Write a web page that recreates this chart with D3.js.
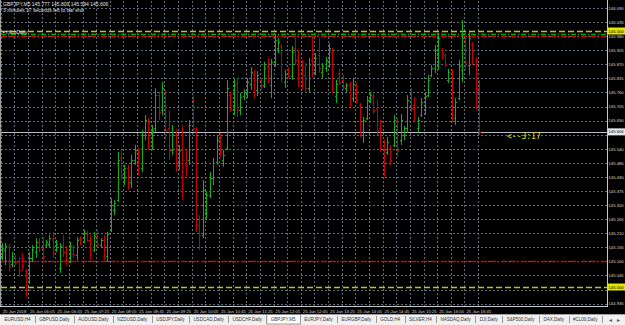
<!DOCTYPE html>
<html><head><meta charset="utf-8">
<script src="https://cdn.jsdelivr.net/npm/d3@7"></script>
<style>html,body{margin:0;padding:0;background:#000;overflow:hidden}svg{display:block}</style>
</head><body>
<svg id="c" width="625" height="325"></svg>
<script>
const symbol = "GBPJPY,M5";
const opens = [145.121,145.145,145.156,145.090,145.117,145.102,145.113,145.063,145.020,145.113,145.137,145.176,145.152,145.164,145.168,145.191,145.145,145.074,145.164,145.137,145.113,145.156,145.125,145.188,145.176,145.207,145.184,145.145,145.199,145.164,145.184,145.121,145.223,145.301,145.340,145.504,145.426,145.465,145.410,145.496,145.527,145.465,145.594,145.645,145.566,145.621,145.750,145.691,145.762,145.621,145.535,145.594,145.477,145.535,145.477,145.496,145.730,145.613,145.242,145.203,145.293,145.359,145.426,145.488,145.574,145.496,145.543,145.750,145.691,145.797,145.691,145.746,145.754,145.793,145.832,145.770,145.809,145.789,145.863,145.789,145.879,145.934,145.941,145.801,145.848,145.824,145.934,145.895,145.840,145.828,145.777,145.887,145.840,145.906,145.840,145.855,145.879,145.918,145.746,145.832,145.809,145.777,145.789,145.738,145.785,145.711,145.594,145.660,145.730,145.746,145.699,145.621,145.555,145.527,145.543,145.555,145.645,145.574,145.594,145.621,145.750,145.711,145.621,145.672,145.711,145.750,145.828,145.855,145.906,145.926,145.906,145.809,145.840,145.660,145.738,145.848,145.965,145.867,145.949,145.887,145.777];
const highs = [145.172,145.172,145.168,145.137,145.125,145.117,145.133,145.070,145.137,145.164,145.191,145.191,145.195,145.184,145.203,145.215,145.184,145.172,145.203,145.160,145.176,145.164,145.195,145.199,145.223,145.219,145.203,145.215,145.223,145.191,145.203,145.215,145.348,145.340,145.527,145.535,145.477,145.477,145.516,145.555,145.543,145.613,145.672,145.660,145.633,145.777,145.762,145.801,145.770,145.691,145.633,145.613,145.555,145.633,145.535,145.652,145.750,145.625,145.281,145.418,145.371,145.449,145.504,145.594,145.602,145.535,145.809,145.762,145.816,145.816,145.758,145.773,145.816,145.859,145.848,145.844,145.816,145.879,145.895,145.891,145.988,145.973,145.949,145.848,145.859,145.941,145.973,145.926,145.887,145.875,145.895,145.980,145.914,145.973,145.875,145.898,145.953,145.934,145.809,145.852,145.828,145.797,145.801,145.813,145.797,145.719,145.664,145.746,145.762,145.762,145.730,145.652,145.574,145.586,145.555,145.672,145.660,145.676,145.629,145.750,145.777,145.742,145.664,145.738,145.758,145.828,145.867,145.945,145.992,145.934,145.914,145.852,145.848,145.738,145.887,146.043,145.996,145.996,145.957,145.898,145.809];
const lows = [145.105,145.086,145.059,145.078,145.086,145.039,145.066,144.961,145.012,145.098,145.113,145.137,145.105,145.156,145.156,145.113,145.137,145.055,145.117,145.086,145.094,145.113,145.105,145.164,145.172,145.176,145.105,145.137,145.156,145.156,145.105,145.098,145.215,145.281,145.332,145.418,145.398,145.379,145.387,145.477,145.438,145.449,145.574,145.535,145.535,145.605,145.652,145.672,145.574,145.496,145.516,145.449,145.457,145.340,145.426,145.477,145.605,145.215,145.145,145.191,145.262,145.348,145.398,145.477,145.508,145.469,145.535,145.684,145.672,145.664,145.672,145.730,145.738,145.770,145.738,145.746,145.770,145.777,145.797,145.738,145.859,145.914,145.801,145.777,145.816,145.809,145.867,145.781,145.770,145.758,145.758,145.820,145.828,145.836,145.816,145.840,145.855,145.758,145.719,145.789,145.770,145.762,145.703,145.723,145.719,145.586,145.563,145.652,145.719,145.676,145.594,145.527,145.430,145.516,145.477,145.547,145.508,145.555,145.574,145.602,145.684,145.645,145.602,145.664,145.672,145.742,145.820,145.836,145.848,145.887,145.859,145.797,145.645,145.633,145.730,145.801,145.848,145.828,145.867,145.691,145.594];
const closes = [145.152,145.160,145.082,145.121,145.098,145.066,145.082,144.988,145.113,145.145,145.176,145.148,145.121,145.176,145.191,145.137,145.168,145.160,145.137,145.105,145.160,145.129,145.184,145.172,145.211,145.184,145.125,145.199,145.168,145.184,145.125,145.207,145.320,145.328,145.496,145.438,145.465,145.406,145.496,145.535,145.465,145.594,145.652,145.566,145.613,145.750,145.684,145.777,145.613,145.535,145.605,145.477,145.535,145.398,145.449,145.633,145.621,145.242,145.203,145.379,145.359,145.426,145.484,145.574,145.527,145.516,145.777,145.699,145.789,145.691,145.742,145.762,145.801,145.840,145.762,145.828,145.785,145.855,145.816,145.879,145.965,145.957,145.828,145.832,145.824,145.918,145.887,145.816,145.789,145.777,145.871,145.840,145.895,145.855,145.863,145.887,145.934,145.785,145.793,145.801,145.785,145.789,145.730,145.793,145.730,145.613,145.652,145.730,145.750,145.691,145.613,145.543,145.457,145.566,145.496,145.652,145.535,145.652,145.621,145.730,145.699,145.660,145.652,145.723,145.746,145.809,145.855,145.926,145.973,145.898,145.871,145.840,145.672,145.723,145.863,145.973,145.879,145.973,145.895,145.770,145.606];
const timeLabels = ["25 Jan 2018","25 Jan 06:05","25 Jan 06:45","25 Jan 07:25","25 Jan 08:05","25 Jan 08:45","25 Jan 09:25","25 Jan 10:05","25 Jan 10:45","25 Jan 11:25","25 Jan 12:05","25 Jan 12:45","25 Jan 13:25","25 Jan 14:05","25 Jan 14:45","25 Jan 15:25","25 Jan 16:05","25 Jan 16:45"];
const priceTicks = [146.090,146.035,145.980,145.925,145.870,145.815,145.760,145.705,145.650,145.595,145.540,145.485,145.430,145.375,145.320,145.265,145.210,145.155,145.100,145.045,144.990,144.935];
const roundLevels = [146.000,145.000];
const dayLevelsGreen = [145.987];
const dayLevelsRed = [145.980,145.100];
const bidPrice = 145.606;
const timerText = "<--3:17";
const timeLeft = "3 minutes 17 seconds left to bar end";
const indicatorName = "\u25AA HiLoDaily";
const tabs = ["EURUSD,H4","GBPUSD,Daily","AUDUSD,Daily","NZDUSD,Daily","USDJPY,Daily","USDCAD,Daily","USDCHF,Daily","GBPJPY,M5","EURJPY,Daily","EURGBP,Daily","GOLD,H4","SILVER,H4","NASDAQ,Daily","DJI,Daily","S&P500,Daily","DAX,Daily","#CL00,Daily"];
const activeTab = "GBPJPY,M5";

const svg = d3.select("#c");
const plotR = 607, plotB = 306;
const y = d3.scaleLinear().domain([145, 146]).range([287, 31]);
const n = closes.length;
const x = d3.scaleLinear().domain([0, n - 1]).range([1.7, 1.7 + (n - 1) * 3.41]);
const font = "Arial, 'Liberation Sans', sans-serif";
const fmt = d3.format(".3f");

svg.append("rect").attr("width", 625).attr("height", 325).attr("fill", "#000");

// grid
const gridColor = "#5f6c7a";
const g = svg.append("g");
priceTicks.forEach(p => {
  const yy = Math.round(y(p)) + 0.5;
  g.append("line").attr("x1", 1).attr("x2", plotR).attr("y1", yy).attr("y2", yy)
    .attr("stroke", gridColor).attr("stroke-dasharray", "2,2").attr("stroke-width", 1);
});
d3.range(0, n, 4).forEach(i => {
  const xx = Math.round(x(i)) - 0.5;
  g.append("line").attr("x1", xx).attr("x2", xx).attr("y1", 1).attr("y2", plotB)
    .attr("stroke", gridColor).attr("stroke-dasharray", "2,2").attr("stroke-width", 1);
});

// level lines
const lv = svg.append("g");
const hline = (p, col, dash, w) => lv.append("line").attr("x1", 1).attr("x2", plotR)
  .attr("y1", Math.round(y(p)) + 0.5).attr("y2", Math.round(y(p)) + 0.5)
  .attr("stroke", col).attr("stroke-width", w).attr("stroke-dasharray", dash);
roundLevels.forEach(p => hline(p, "#c8c800", "6,3", 1.3));
dayLevelsGreen.forEach(p => hline(p, "#00b000", "5,2,1,2", 1.3));
dayLevelsRed.forEach(p => hline(p, "#d80000", "5,2,1,2", 1.3));
hline(bidPrice, "#b8bcc4", null, 1);

// OHLC bars
const bars = svg.append("g");
for (let i = 0; i < n; i++) {
  const col = closes[i] >= opens[i] ? "#12b012" : "#c40000";
  const xx = Math.round(x(i)) + 0.5;
  bars.append("line").attr("x1", xx).attr("x2", xx).attr("y1", y(highs[i])).attr("y2", y(lows[i]))
    .attr("stroke", col).attr("stroke-width", 1);
  bars.append("line").attr("x1", xx - 1.5).attr("x2", xx).attr("y1", Math.round(y(opens[i])) + 0.5).attr("y2", Math.round(y(opens[i])) + 0.5)
    .attr("stroke", col).attr("stroke-width", 1);
  bars.append("line").attr("x1", xx).attr("x2", xx + 1.5).attr("y1", Math.round(y(closes[i])) + 0.5).attr("y2", Math.round(y(closes[i])) + 0.5)
    .attr("stroke", col).attr("stroke-width", 1);
}

// borders
svg.append("line").attr("x1", 0.5).attr("x2", 0.5).attr("y1", 0).attr("y2", plotB).attr("stroke", "#a0a0a0");
svg.append("line").attr("x1", plotR + 0.5).attr("x2", plotR + 0.5).attr("y1", 0).attr("y2", plotB + 0.5).attr("stroke", "#c8c8c8");
svg.append("line").attr("x1", 0).attr("x2", plotR + 1).attr("y1", plotB + 0.5).attr("y2", plotB + 0.5).attr("stroke", "#c8c8c8");

// price axis (labels hidden under highlighted boxes are skipped)
const hlPrices = roundLevels.concat([bidPrice]);
const visTicks = priceTicks.filter(p => hlPrices.every(h => Math.abs(y(p) - y(h)) > 4));
const ax = svg.append("g").attr("transform", `translate(${plotR + 1.5},0)`)
  .call(d3.axisRight(y).tickValues(visTicks).tickSize(0).tickPadding(0).tickFormat(fmt));
ax.select(".domain").remove();
ax.selectAll("text").attr("fill", "#d8d8d8").attr("font-size", 4.2).attr("font-family", font);

function hlLabel(p, bg) {
  const yy = y(p);
  svg.append("rect").attr("x", plotR + 1).attr("y", yy - 3.5).attr("width", 17).attr("height", 7).attr("fill", bg);
  svg.append("text").attr("x", plotR + 1.5).attr("y", yy + 1.5).attr("font-size", 4.2).attr("font-family", font)
    .attr("fill", "#000").text(fmt(p));
}
roundLevels.forEach(p => hlLabel(p, "#e6e600"));
hlLabel(bidPrice, "#e8e8e8");

// time axis
const tIdx = timeLabels.map((d, k) => k * 8);
const tx = svg.append("g").attr("transform", `translate(0,${plotB})`)
  .call(d3.axisBottom(x).tickValues(tIdx).tickSize(0).tickPadding(4).tickFormat((d, k) => timeLabels[k]));
tx.select(".domain").remove();
tx.selectAll("text").attr("fill", "#d8d8d8").attr("font-size", 4.3).attr("font-family", font)
  .attr("text-anchor", "start").attr("dx", 0.5);

// header texts
const last = n - 1;
svg.append("text").attr("x", 3).attr("y", 6).attr("font-size", 5).attr("font-family", font).attr("fill", "#e0e0e0")
  .text(`${symbol}  ${fmt(opens[last])} ${fmt(highs[last])} ${fmt(lows[last])} ${fmt(closes[last])}`);
svg.append("text").attr("x", 3).attr("y", 12).attr("font-size", 5).attr("font-family", font).attr("fill", "#e0e0e0").text(timeLeft);
svg.append("text").attr("x", 3).attr("y", 34).attr("font-size", 5).attr("font-family", font).attr("fill", "#e0e0e0").text(indicatorName);

svg.append("text").attr("x", 507).attr("y", y(bidPrice) + 7).attr("font-size", 8).attr("font-family", "'DejaVu Sans Mono', monospace")
  .attr("fill", "#e0e000").text(timerText);

// tab bar
const tb = svg.append("g").attr("transform", "translate(0,314)");
tb.append("rect").attr("width", 625).attr("height", 11).attr("fill", "#f0f0f0");
tb.append("line").attr("x1", 0).attr("x2", 625).attr("y1", 0.5).attr("y2", 0.5).attr("stroke", "#a0a0a0");
const tabTexts = tabs.map(t => tb.append("text").attr("y", 7).attr("font-size", 4.5).attr("font-family", font).attr("fill", "#333").text(t));
const natural = tabTexts.map(tt => tt.node().getComputedTextLength() + 10);
const scaleW = 602 / d3.sum(natural);
let cx = 0;
tabs.forEach((t, k) => {
  const w = natural[k] * scaleW;
  const tl = tabTexts[k].node().getComputedTextLength();
  if (t === activeTab) {
    tb.insert("rect", "text").attr("x", cx + 0.5).attr("y", 0.5).attr("width", w).attr("height", 9.5).attr("fill", "#fff").attr("stroke", "#808080").attr("stroke-width", 0.8);
  }
  tabTexts[k].attr("x", cx + (w - tl) / 2);
  tb.append("line").attr("x1", Math.round(cx + w) + 0.5).attr("x2", Math.round(cx + w) + 0.5).attr("y1", 2).attr("y2", 9).attr("stroke", "#999");
  cx += w;
});
tb.append("text").attr("x", 609).attr("y", 7.5).attr("font-size", 5.5).attr("fill", "#555").text("\u25C2");
tb.append("text").attr("x", 617).attr("y", 7.5).attr("font-size", 5.5).attr("fill", "#555").text("\u25B8");
</script>
</body></html>
